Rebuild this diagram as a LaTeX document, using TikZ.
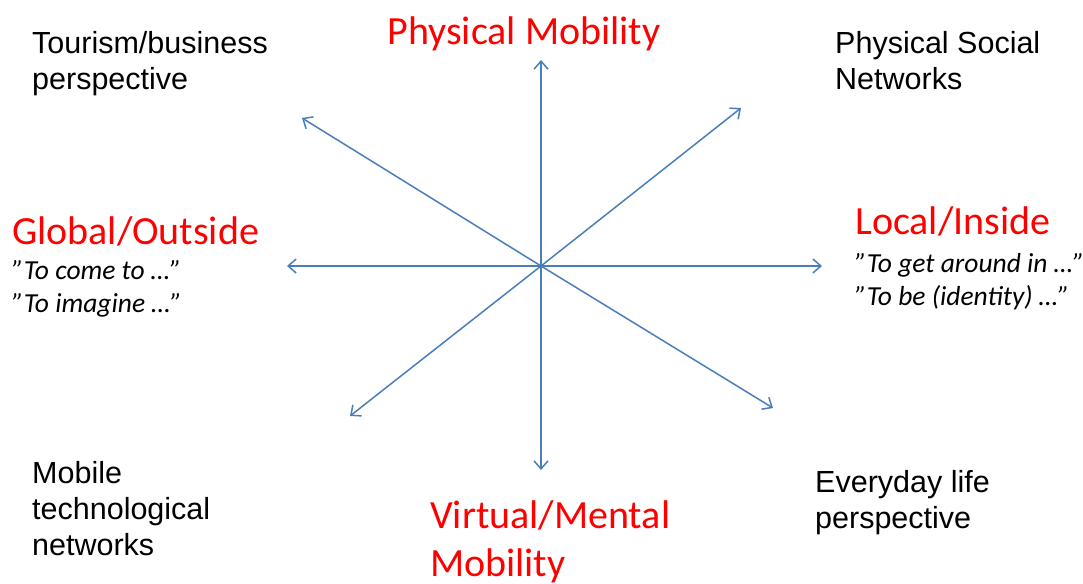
\documentclass[tikz,border=0pt]{standalone}
\usepackage{fontspec}
\setmainfont{Liberation Sans}
\newfontfamily\calibri{Carlito}
\usetikzlibrary{arrows.meta}

\definecolor{axisblue}{HTML}{4A7EBB}

\tikzset{
	axis/.style={draw=axisblue, line width=1.5pt, -{Straight Barb[length=8pt,width=14pt]}},
	pole/.style={text=red, inner sep=0pt, align=left, font=\calibri\fontsize{40}{48}\selectfont},
	quote/.style={inner sep=0pt, align=left, font=\calibri\itshape\fontsize{27.5}{33}\selectfont},
	corner/.style={inner sep=0pt, align=left, font=\fontsize{30.5}{36}\selectfont}
}

\begin{document}
\begin{tikzpicture}[x=1pt,y=-1pt]

	\useasboundingbox (0,0) rectangle (1083,583);

	% centre of the star and the ends of its eight rays
	\coordinate (hub) at (541,266);
	\coordinate (n) at (541,60);
	\coordinate (s) at (541,470);
	\coordinate (w) at (287,266);
	\coordinate (e) at (822,266);
	\coordinate (nw) at (302,118);
	\coordinate (se) at (773,408);
	\coordinate (ne) at (741,108);
	\coordinate (sw) at (350,416);

	\foreach \tip in {n, s, w, e, nw, se, ne, sw} {
		\draw[axis] (hub) -- (\tip);
	}

	% the four poles
	\node[pole, anchor=center] (physical) at (524,34) {Physical Mobility};
	\node[pole, anchor=west] (global) at (12,231) {Global/Outside};
	\node[pole, anchor=west] (local) at (855,221) {Local/Inside};
	\node[pole, anchor=west] (virtual) at (430,542) {Virtual/Mental\\Mobility};

	\node[quote, anchor=west] (globalq) at (12,289) {”To come to …”\\”To imagine …”};
	\node[quote, anchor=west] (localq) at (855,282) {”To get around in …”\\”To be (identity) …”};

	% corners
	\node[corner, anchor=west] (tourism) at (32,64) {Tourism/business\\perspective};
	\node[corner, anchor=west] (social) at (835,61) {Physical Social\\Networks};
	\node[corner, anchor=west] (mobile) at (32,509) {Mobile\\technological\\networks};
	\node[corner, anchor=west] (everyday) at (815,503) {Everyday life\\perspective};

\end{tikzpicture}
\end{document}
